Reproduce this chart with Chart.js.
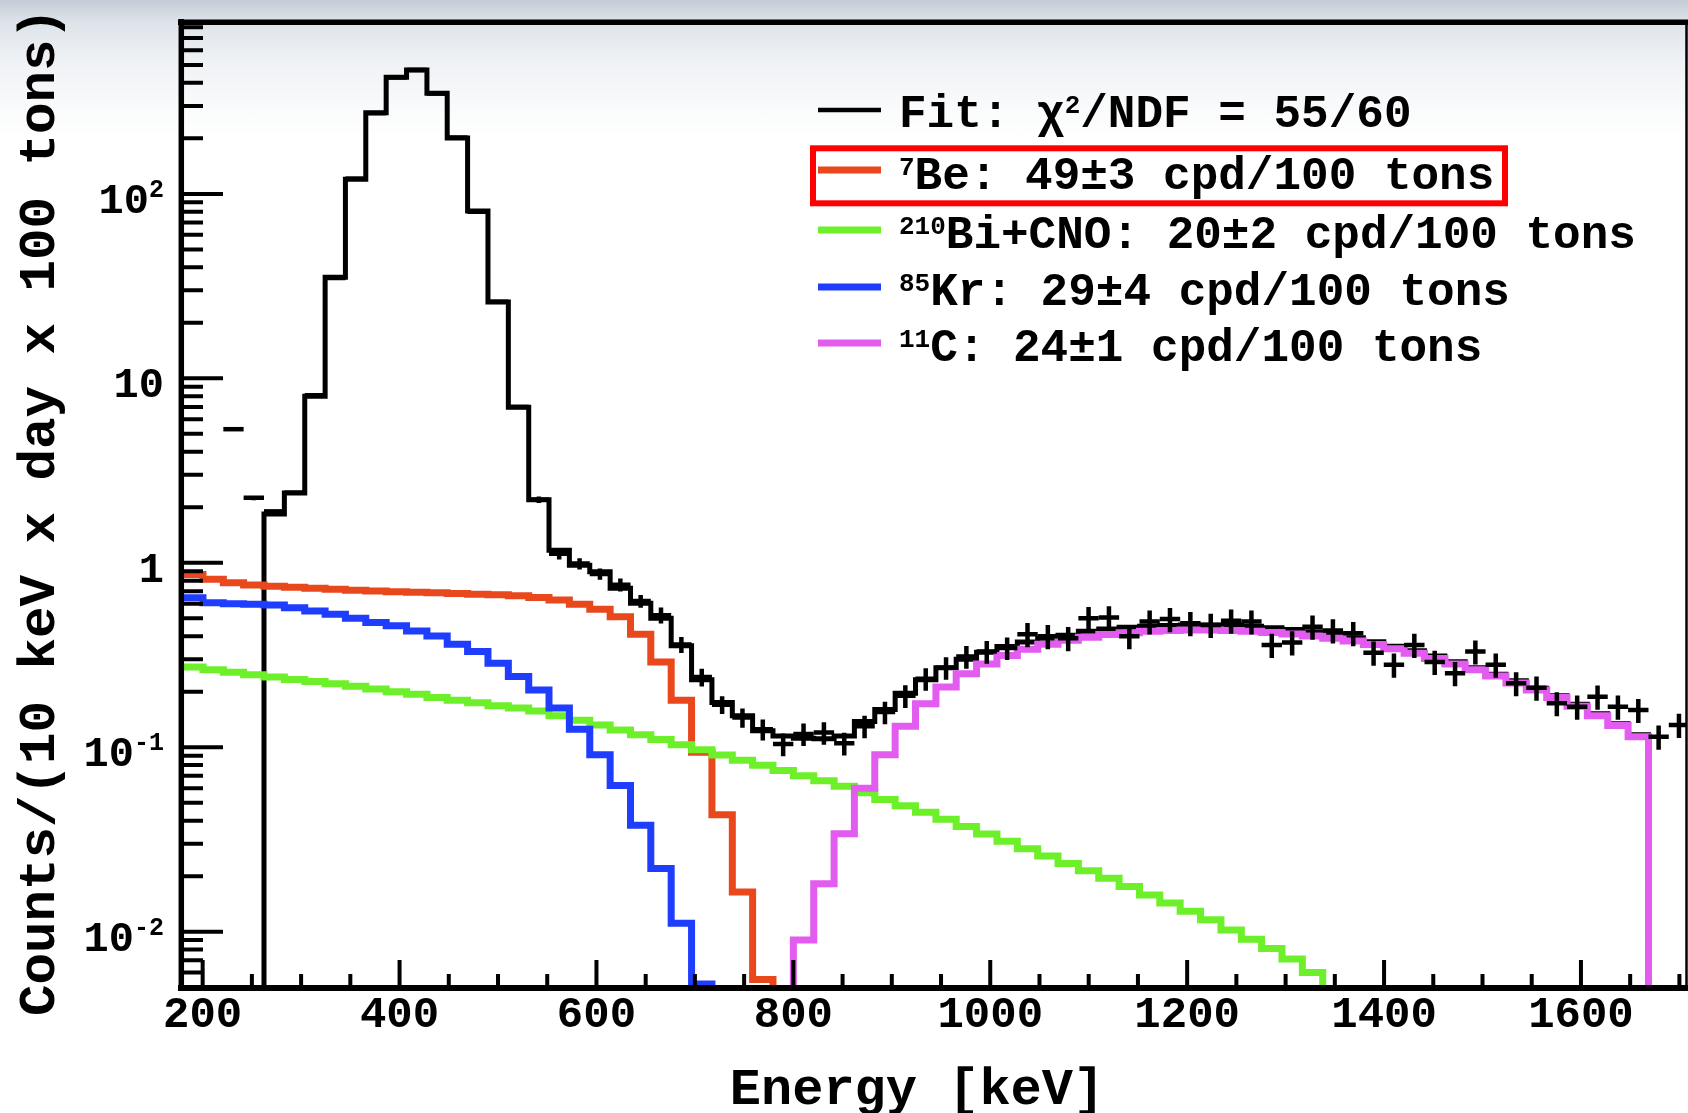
<!DOCTYPE html>
<html>
<head>
<meta charset="utf-8">
<title>Borexino 7Be spectrum fit</title>
<script src="https://cdn.jsdelivr.net/npm/chart.js@4.4.1/dist/chart.umd.min.js"></script>
<style>
  html, body { margin:0; padding:0; }
  body { width:1688px; height:1113px; overflow:hidden;
    background: linear-gradient(to bottom, #c3cdd7 0px, #dde3e9 22px, #eff2f5 60px, #ffffff 135px); }
  #box { position:relative; width:1688px; height:1113px; }
  canvas { display:block; }
</style>
</head>
<body>
<div id="box"><canvas id="chart" width="1688" height="1113"></canvas></div>
<script>
// ---------------- data ----------------
// histogram bin edges in keV (75 edges -> 74 bins)
const binEdges = [179.6, 200.3, 221.0, 241.6, 262.3, 283.0, 303.7, 324.4, 345.0, 365.7,
  386.4, 407.1, 427.8, 448.4, 469.1, 489.8, 510.5, 531.2, 551.8, 572.5,
  593.2, 613.9, 634.6, 655.2, 675.9, 696.6, 717.3, 738.0, 758.6, 779.3,
  800.0, 820.7, 841.4, 862.0, 882.7, 903.4, 924.1, 944.8, 965.4, 986.1,
  1006.8, 1027.5, 1048.2, 1068.8, 1089.5, 1110.2, 1130.9, 1151.6, 1172.2, 1192.9,
  1213.6, 1234.3, 1255.0, 1275.6, 1296.3, 1317.0, 1337.7, 1358.4, 1379.0, 1399.7,
  1420.4, 1441.1, 1461.8, 1482.4, 1503.1, 1523.8, 1544.5, 1565.2, 1585.8, 1606.5,
  1627.2, 1647.9, 1668.6, 1689.2, 1709.9];

// total fit (black histogram)
const fitValues = [0, 0, 0, 0, 1.84, 2.39, 8.0, 35.3, 120, 275,
  429, 469, 351, 201, 80.7, 25.9, 6.98, 2.2, 1.17, 0.97,
  0.895, 0.728, 0.603, 0.50, 0.355, 0.232, 0.175, 0.148, 0.123, 0.115,
  0.112, 0.111, 0.115, 0.138, 0.16, 0.196, 0.232, 0.27, 0.3, 0.327,
  0.352, 0.372, 0.39, 0.405, 0.425, 0.438, 0.447, 0.453, 0.457, 0.46,
  0.46, 0.458, 0.453, 0.445, 0.435, 0.423, 0.41, 0.392, 0.373, 0.353,
  0.333, 0.312, 0.291, 0.27, 0.249, 0.229, 0.209, 0.19, 0.171, 0.152,
  0.134, 0.117, 0, 0];

// 7Be component (red)
const be7Values = [0.865, 0.813, 0.78, 0.757, 0.745, 0.737, 0.727, 0.718, 0.709, 0.703,
  0.697, 0.692, 0.687, 0.682, 0.676, 0.67, 0.662, 0.648, 0.628, 0.595,
  0.56, 0.51, 0.41, 0.29, 0.18, 0.094, 0.043, 0.0164, 0.0055, 0,
  0, 0, 0, 0, 0, 0, 0, 0, 0, 0,
  0, 0, 0, 0, 0, 0, 0, 0, 0, 0,
  0, 0, 0, 0, 0, 0, 0, 0, 0, 0,
  0, 0, 0, 0, 0, 0, 0, 0, 0, 0,
  0, 0, 0, 0];

// 210Bi + CNO component (green)
const bicnoValues = [0.272, 0.263, 0.255, 0.247, 0.24, 0.233, 0.227, 0.221, 0.214, 0.207,
  0.20, 0.194, 0.186, 0.18, 0.174, 0.168, 0.163, 0.157, 0.148, 0.14,
  0.132, 0.124, 0.117, 0.110, 0.103, 0.0968, 0.0908, 0.0851, 0.0798, 0.0748,
  0.0701, 0.0658, 0.0614, 0.0566, 0.0521, 0.0481, 0.0444, 0.0407, 0.0372, 0.0339,
  0.0309, 0.0282, 0.0257, 0.0234, 0.0214, 0.0195, 0.0176, 0.0158, 0.0143, 0.0129,
  0.0116, 0.0102, 0.0091, 0.0081, 0.0071, 0.0060, 0, 0, 0, 0,
  0, 0, 0, 0, 0, 0, 0, 0, 0, 0,
  0, 0, 0, 0];

// 85Kr component (blue)
const kr85Values = [0.647, 0.608, 0.60, 0.596, 0.59, 0.571, 0.548, 0.526, 0.50, 0.474,
  0.455, 0.427, 0.401, 0.362, 0.33, 0.285, 0.242, 0.204, 0.163, 0.125,
  0.091, 0.062, 0.0377, 0.022, 0.0111, 0.0052, 0, 0, 0, 0,
  0, 0, 0, 0, 0, 0, 0, 0, 0, 0,
  0, 0, 0, 0, 0, 0, 0, 0, 0, 0,
  0, 0, 0, 0, 0, 0, 0, 0, 0, 0,
  0, 0, 0, 0, 0, 0, 0, 0, 0, 0,
  0, 0, 0, 0];

// 11C component (magenta)
const c11Values = [0, 0, 0, 0, 0, 0, 0, 0, 0, 0,
  0, 0, 0, 0, 0, 0, 0, 0, 0, 0,
  0, 0, 0, 0, 0, 0, 0, 0, 0, 0,
  0.009, 0.0182, 0.034, 0.060, 0.091, 0.130, 0.172, 0.212, 0.25, 0.283,
  0.314, 0.34, 0.362, 0.38, 0.395, 0.408, 0.418, 0.425, 0.43, 0.432,
  0.432, 0.43, 0.426, 0.419, 0.411, 0.401, 0.39, 0.377, 0.36, 0.342,
  0.323, 0.303, 0.283, 0.263, 0.243, 0.223, 0.204, 0.186, 0.167, 0.148,
  0.131, 0.114, 0, 0];

// measured spectrum (points with error bars), one per bin
const dataValues = [null, null, 5.3, 2.25, 1.9, 2.4, 8.1, 35, 121, 274,
  428, 470, 350, 202, 80, 26, 7.0, 2.2, 1.12, 0.99,
  0.87, 0.76, 0.62, 0.52, 0.36, 0.24, 0.17, 0.145, 0.125, 0.104,
  0.118, 0.12, 0.105, 0.13, 0.155, 0.19, 0.235, 0.27, 0.31, 0.33,
  0.345, 0.41, 0.40, 0.39, 0.50, 0.505, 0.40, 0.48, 0.495, 0.47,
  0.46, 0.485, 0.48, 0.358, 0.37, 0.45, 0.43, 0.415, 0.325, 0.28,
  0.358, 0.29, 0.252, 0.33, 0.28, 0.222, 0.21, 0.173, 0.166, 0.188,
  0.166, 0.159, 0.114, 0.132];
// relative vertical error of each point
const dataRelErr = [0, 0, 0.02, 0.03, 0.02, 0.02, 0.02, 0.02, 0.02, 0.02,
  0.02, 0.02, 0.02, 0.02, 0.02, 0.02, 0.02, 0.04, 0.07, 0.07,
  0.07, 0.08, 0.08, 0.1, 0.1, 0.11, 0.11, 0.12, 0.13, 0.14,
  0.14, 0.14, 0.14, 0.14, 0.14, 0.14, 0.14, 0.14, 0.14, 0.14,
  0.14, 0.15, 0.15, 0.15, 0.15, 0.15, 0.15, 0.15, 0.15, 0.15,
  0.15, 0.15, 0.15, 0.15, 0.15, 0.15, 0.15, 0.15, 0.15, 0.15,
  0.15, 0.15, 0.15, 0.15, 0.15, 0.15, 0.15, 0.15, 0.15, 0.15,
  0.15, 0.15, 0.15, 0.15];

// axis ticks and labels
const xMajorTicks = [200, 400, 600, 800, 1000, 1200, 1400, 1600];
const xTickLabels = ['200', '400', '600', '800', '1000', '1200', '1400', '1600'];
const xMinorTicks = [250, 300, 350, 450, 500, 550, 650, 700, 750, 850, 900, 950,
  1050, 1100, 1150, 1250, 1300, 1350, 1450, 1500, 1550, 1650, 1700];
const yDecadeTicks = [0.01, 0.1, 1, 10, 100];
const yTickBase = ['10', '10', '1', '10', '10'];
const yTickExp = ['-2', '-1', '', '', '2'];
const yMinorMultipliers = [2, 3, 4, 5, 6, 7, 8, 9];

const legendLabels = [
  'Fit: χ^{2}/NDF = 55/60',
  '^{7}Be: 49±3 cpd/100 tons',
  '^{210}Bi+CNO: 20±2 cpd/100 tons',
  '^{85}Kr: 29±4 cpd/100 tons',
  '^{11}C: 24±1 cpd/100 tons'
];
const xTitle = 'Energy [keV]';
const yTitle = 'Counts/(10 keV x day x 100 tons)';

// ---------------- styling ----------------
const FONT = '"Liberation Mono", "DejaVu Sans Mono", monospace';
const COL_FIT = '#000000';
const COL_BE7 = '#e8481c';
const COL_BICNO = '#6def2a';
const COL_KR85 = '#1f3dfc';
const COL_C11 = '#e35cf0';
const legendColors = [COL_FIT, COL_BE7, COL_BICNO, COL_KR85, COL_C11];
// empty bins are drawn below the visible range (as ROOT clips them at the frame)
const EMPTY_BIN = 1e-4;

function histo(values) {
  const pts = values.map((v, i) => ({ x: binEdges[i], y: v > 0 ? v : EMPTY_BIN }));
  const last = values[values.length - 1];
  pts.push({ x: binEdges[values.length], y: last > 0 ? last : EMPTY_BIN });
  return pts;
}
function dataPoints() {
  const pts = [];
  dataValues.forEach((v, i) => {
    if (v !== null) pts.push({ x: (binEdges[i] + binEdges[i + 1]) / 2, y: v, k: i });
  });
  return pts;
}
function parseRich(s) {
  const parts = []; const re = /\^\{([^}]*)\}/g; let last = 0, m;
  while ((m = re.exec(s))) {
    if (m.index > last) parts.push({ t: s.slice(last, m.index), sup: false });
    parts.push({ t: m[1], sup: true });
    last = re.lastIndex;
  }
  if (last < s.length) parts.push({ t: s.slice(last), sup: false });
  return parts;
}

function histDataset(label, values, color, width) {
  return {
    label, data: histo(values), borderColor: color, backgroundColor: color,
    borderWidth: width, stepped: 'before', pointRadius: 0, pointHoverRadius: 0,
    fill: false, tension: 0, borderCapStyle: 'butt', borderJoinStyle: 'miter'
  };
}

const decorPlugin = {
  id: 'decor',
  afterDatasetsDraw(chart) {
    const ctx = chart.ctx, xs = chart.scales.x, ys = chart.scales.y, a = chart.chartArea;
    const meta = chart.getDatasetMeta(0);
    ctx.save();
    ctx.beginPath(); ctx.rect(a.left, a.top, a.right - a.left, a.bottom - a.top); ctx.clip();
    ctx.strokeStyle = '#000'; ctx.lineWidth = 4.5; ctx.lineCap = 'butt';
    const pts = chart.data.datasets[0].data;
    meta.data.forEach((el, j) => {
      const p = pts[j]; const k = p.k;
      const xl = xs.getPixelForValue(binEdges[k]);
      const xr = xs.getPixelForValue(binEdges[k + 1]);
      const e = dataRelErr[k];
      const yt = ys.getPixelForValue(p.y * (1 + e));
      const yb = ys.getPixelForValue(p.y * (1 - e));
      ctx.beginPath();
      ctx.moveTo(xl, el.y); ctx.lineTo(xr, el.y);
      if (yb - yt > 4) { ctx.moveTo(el.x, yt); ctx.lineTo(el.x, yb); }
      ctx.stroke();
    });
    ctx.restore();
  },
  afterDraw(chart) {
    const ctx = chart.ctx, xs = chart.scales.x, ys = chart.scales.y, a = chart.chartArea;
    ctx.save();
    ctx.strokeStyle = '#000'; ctx.fillStyle = '#000'; ctx.lineCap = 'butt';
    // ticks (ROOT style, inside the frame)
    ctx.lineWidth = 4;
    ctx.beginPath();
    xMajorTicks.forEach(v => { const px = xs.getPixelForValue(v); ctx.moveTo(px, a.bottom); ctx.lineTo(px, a.bottom - 28); });
    xMinorTicks.forEach(v => { const px = xs.getPixelForValue(v); ctx.moveTo(px, a.bottom); ctx.lineTo(px, a.bottom - 14); });
    [0.001, 0.01, 0.1, 1, 10, 100].forEach(d => {
      const py = ys.getPixelForValue(d);
      if (d >= ys.min && d <= ys.max) { ctx.moveTo(a.left, py); ctx.lineTo(a.left + 42, py); }
      yMinorMultipliers.forEach(m => {
        const v = m * d;
        if (v >= ys.min && v <= ys.max) { const q = ys.getPixelForValue(v); ctx.moveTo(a.left, q); ctx.lineTo(a.left + 22, q); }
      });
    });
    ctx.stroke();
    // frame
    ctx.lineWidth = 5.5;
    ctx.beginPath(); ctx.moveTo(a.left + 0.3, a.top - 3); ctx.lineTo(a.left + 0.3, a.bottom + 3); ctx.stroke();
    ctx.beginPath(); ctx.moveTo(a.left - 3, a.top + 0.3); ctx.lineTo(1688, a.top + 0.3); ctx.stroke();
    ctx.lineWidth = 6;
    ctx.beginPath(); ctx.moveTo(a.left - 3, a.bottom); ctx.lineTo(1688, a.bottom); ctx.stroke();
    ctx.lineWidth = 2.5;
    ctx.beginPath(); ctx.moveTo(a.right + 0.5, a.top); ctx.lineTo(a.right + 0.5, a.bottom); ctx.stroke();

    // y tick labels with superscript exponents
    ctx.textBaseline = 'alphabetic'; ctx.textAlign = 'left';
    yDecadeTicks.forEach((v, i) => {
      const py = ys.getPixelForValue(v);
      const base = yTickBase[i], exp = yTickExp[i];
      ctx.font = 'bold 42px ' + FONT; const wb = ctx.measureText(base).width;
      ctx.font = 'bold 25px ' + FONT; const we = exp ? ctx.measureText(exp).width : 0;
      const right = 164;
      ctx.font = 'bold 42px ' + FONT; ctx.fillText(base, right - we - wb, py + 19);
      if (exp) { ctx.font = 'bold 25px ' + FONT; ctx.fillText(exp, right - we, py + 3); }
    });

    // axis titles
    ctx.font = 'bold 52px ' + FONT; ctx.textAlign = 'center';
    ctx.fillText(xTitle, 917, 1104);
    ctx.save();
    ctx.translate(54, 512); ctx.rotate(-Math.PI / 2);
    ctx.font = 'bold 52.5px ' + FONT; ctx.textAlign = 'center';
    ctx.fillText(yTitle, 0, 0);
    ctx.restore();

    // legend
    const rowY = [112, 174, 233, 290, 346];
    const lineY = [110, 170, 230, 287, 343];
    legendLabels.forEach((lab, i) => {
      ctx.strokeStyle = legendColors[i]; ctx.lineWidth = i === 0 ? 4.5 : 7;
      ctx.beginPath(); ctx.moveTo(818, lineY[i]); ctx.lineTo(881, lineY[i]); ctx.stroke();
      let x = 899; const base = rowY[i] + 15;
      ctx.fillStyle = '#000'; ctx.textAlign = 'left';
      parseRich(lab).forEach(p => {
        if (p.sup) { ctx.font = 'bold 26px ' + FONT; ctx.fillText(p.t, x, base - 14); }
        else { ctx.font = 'bold 46px ' + FONT; ctx.fillText(p.t, x, base); }
        x += ctx.measureText(p.t).width;
      });
    });
    // highlight box around the 7Be entry
    ctx.strokeStyle = '#ff0000'; ctx.lineWidth = 6;
    ctx.strokeRect(813, 148.3, 692, 55);
    ctx.restore();
  }
};

const chart = new Chart(document.getElementById('chart'), {
  type: 'line',
  data: {
    datasets: [
      { label: 'Data', data: dataPoints(), showLine: false, pointRadius: 0, pointHoverRadius: 0,
        borderColor: '#000', backgroundColor: '#000' },
      histDataset('11C', c11Values, COL_C11, 7),
      histDataset('85Kr', kr85Values, COL_KR85, 7),
      histDataset('210Bi+CNO', bicnoValues, COL_BICNO, 7),
      histDataset('7Be', be7Values, COL_BE7, 7),
      histDataset('Fit', fitValues, COL_FIT, 5)
    ]
  },
  options: {
    responsive: false,
    animation: false,
    events: [],
    layout: { padding: { top: 22, right: 2, left: 0, bottom: 0 } },
    plugins: { legend: { display: false }, tooltip: { enabled: false }, title: { display: false } },
    scales: {
      x: {
        type: 'linear', min: 178, max: 1706.7, bounds: 'data',
        grid: { display: false, drawTicks: false },
        border: { display: false },
        afterFit: s => { s.height = 125; },
        afterBuildTicks: s => { s.ticks = xMajorTicks.map(v => ({ value: v })); },
        ticks: {
          autoSkip: false, maxRotation: 0, padding: 2, color: '#000',
          font: { family: FONT, size: 44, weight: 'bold' },
          callback: (v, i) => xTickLabels[i]
        }
      },
      y: {
        type: 'logarithmic', min: 0.00495, max: 855, bounds: 'data',
        grid: { display: false, drawTicks: false },
        border: { display: false },
        afterFit: s => { s.width = 181; },
        afterBuildTicks: s => { s.ticks = yDecadeTicks.map(v => ({ value: v })); },
        ticks: { display: false }
      }
    }
  },
  plugins: [decorPlugin]
});
</script>
</body>
</html>
